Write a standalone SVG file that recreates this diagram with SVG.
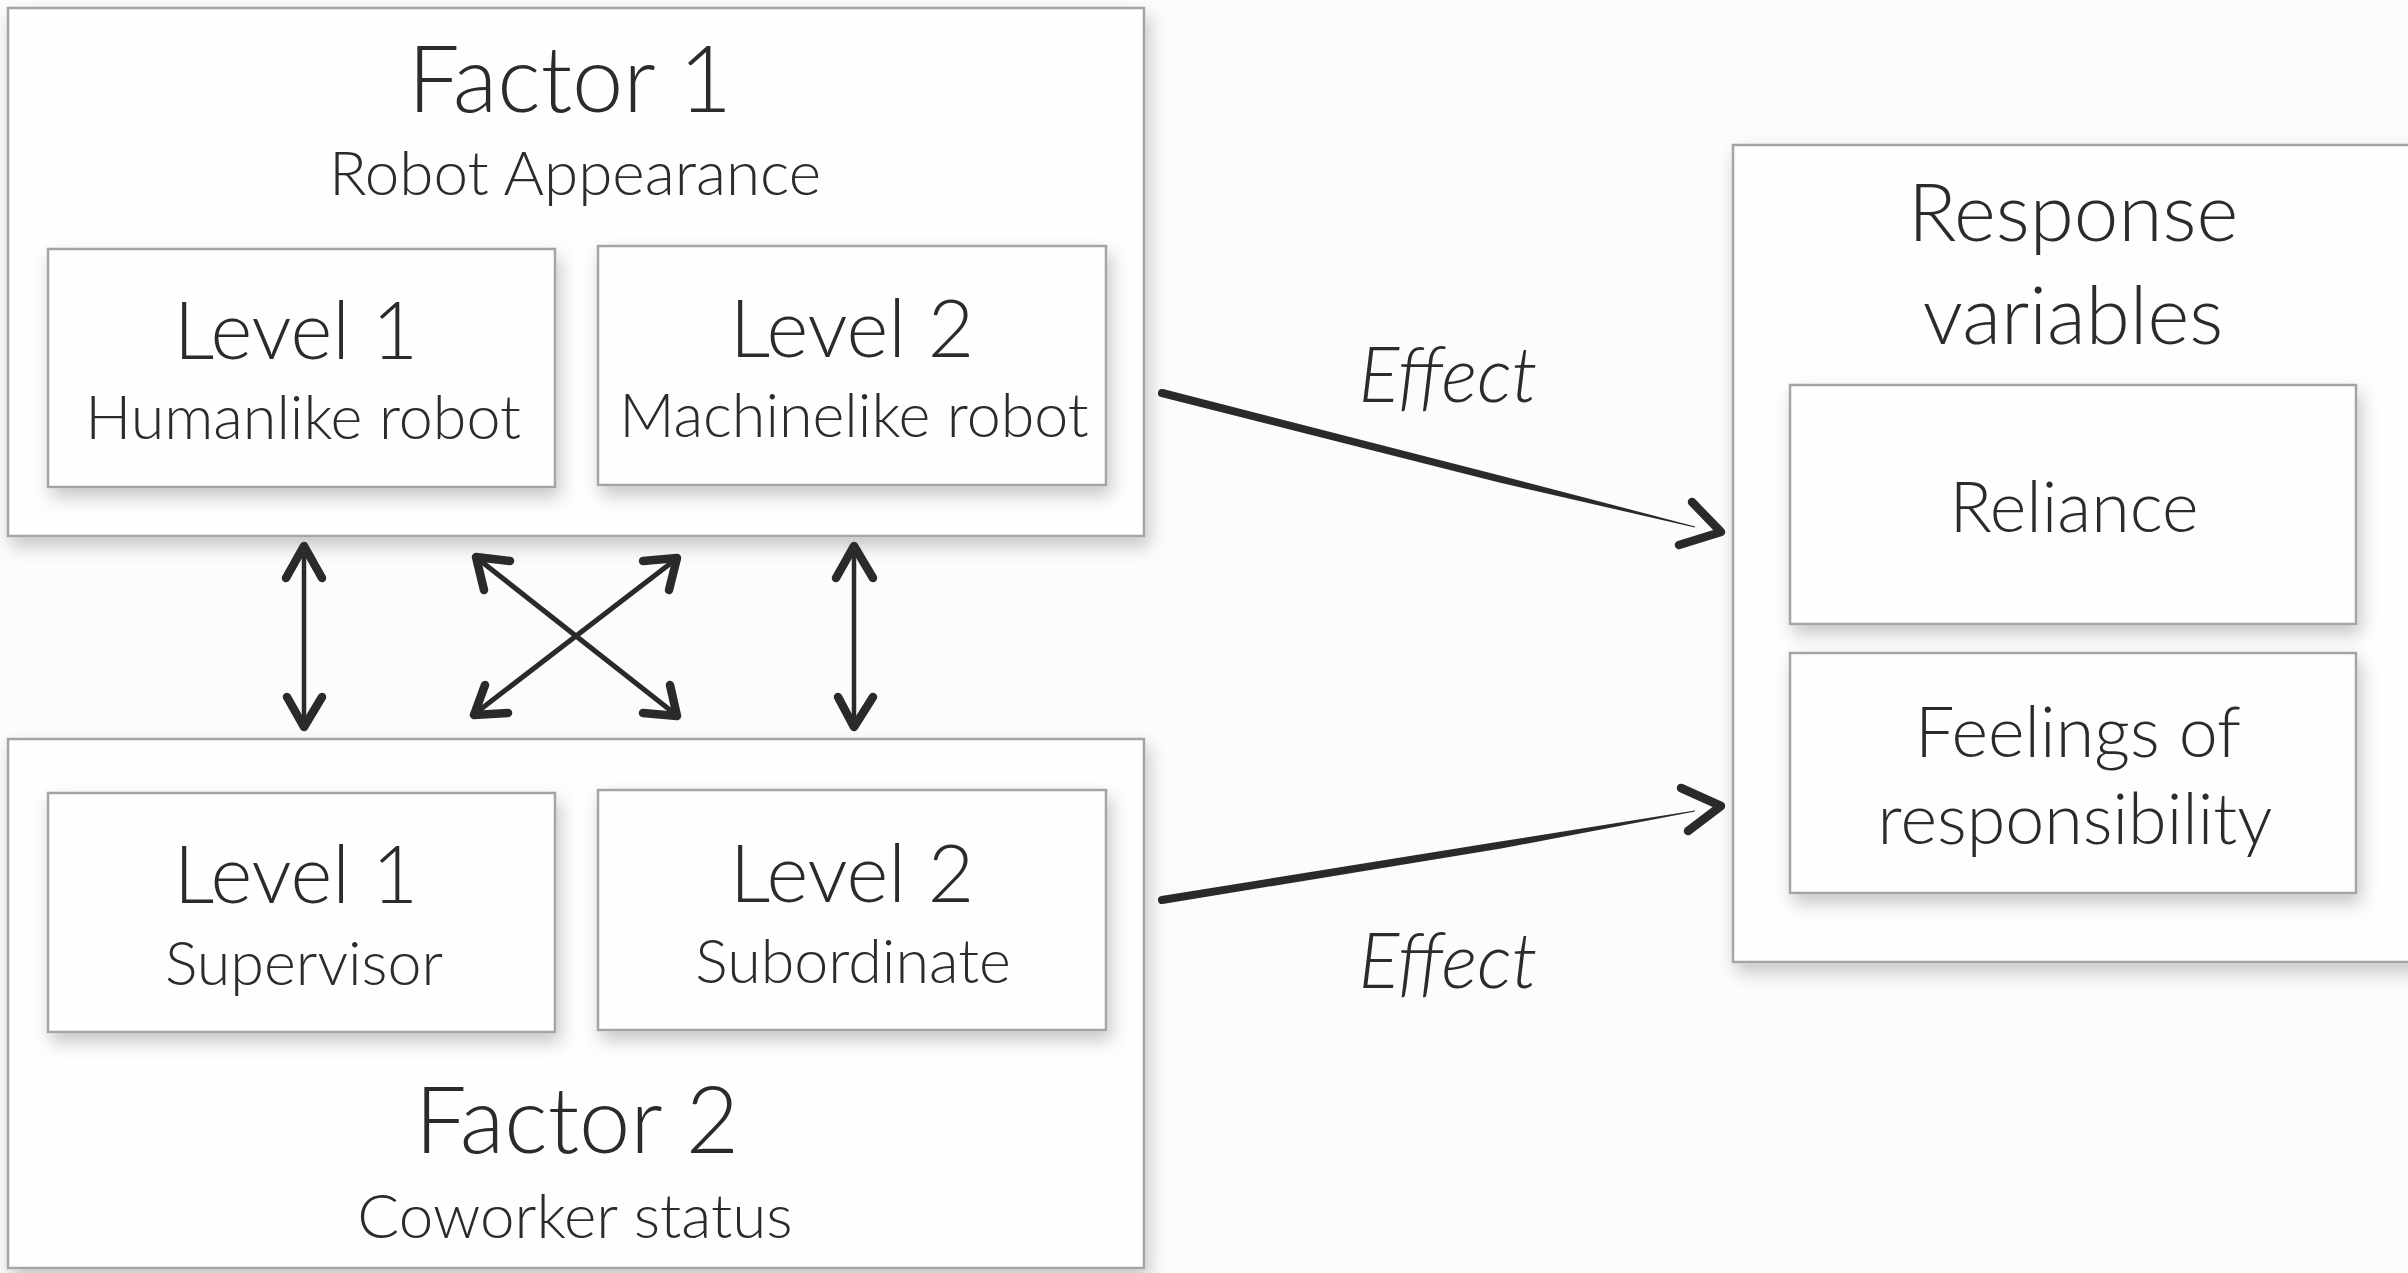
<svg xmlns="http://www.w3.org/2000/svg" width="2408" height="1273" viewBox="0 0 2408 1273">
  <defs>
    <filter id="shadow" x="-10%" y="-10%" width="125%" height="130%">
      <feDropShadow dx="4" dy="9" stdDeviation="9" flood-color="#000" flood-opacity="0.22"/>
    </filter>
    <style>
      .box { fill: #fefefe; stroke: #a2a5a7; stroke-width: 2.5; }
      .t { font-family: "Lato", "Open Sans", "Liberation Sans", sans-serif; font-weight: 300; fill: #2b2b2d; text-anchor: middle; }
      .big { font-size: 92px; }
      .mid { font-size: 80px; }
      .resp { font-size: 70px; }
      .sub { font-size: 62px; }
      .lvl { font-size: 61px; }
      .eff { font-size: 76px; font-style: italic; }
      .ink { fill: none; stroke: #2a2a2d; stroke-linecap: round; stroke-linejoin: round; }
      .head { stroke-width: 8.5; }
      .shaft { stroke-width: 4.5; }
      .xshaft { stroke-width: 5; }
      .brush { fill: #2a2a2d; }
    </style>
  </defs>

  <rect width="2408" height="1273" fill="#fcfcfc"/>

  <!-- Factor 1 -->
  <g id="factor1">
    <rect class="box" x="8" y="8" width="1136" height="528" filter="url(#shadow)"/>
    <text class="t big" x="570" y="112">Factor 1</text>
    <text class="t sub" x="575" y="195">Robot Appearance</text>
  </g>
  <g id="f1-level1">
    <rect class="box" x="48" y="249" width="507" height="238" filter="url(#shadow)"/>
    <text class="t mid" x="296" y="359">Level 1</text>
    <text class="t lvl" x="303" y="439">Humanlike robot</text>
  </g>
  <g id="f1-level2">
    <rect class="box" x="598" y="246" width="508" height="239" filter="url(#shadow)"/>
    <text class="t mid" x="852" y="357">Level 2</text>
    <text class="t lvl" x="854" y="437">Machinelike robot</text>
  </g>

  <!-- Factor 2 -->
  <g id="factor2">
    <rect class="box" x="8" y="739" width="1136" height="529" filter="url(#shadow)"/>
    <text class="t big" x="577" y="1153">Factor 2</text>
    <text class="t sub" x="575" y="1238">Coworker status</text>
  </g>
  <g id="f2-level1">
    <rect class="box" x="48" y="793" width="507" height="239" filter="url(#shadow)"/>
    <text class="t mid" x="296" y="903">Level 1</text>
    <text class="t lvl" x="304" y="985">Supervisor</text>
  </g>
  <g id="f2-level2">
    <rect class="box" x="598" y="790" width="508" height="240" filter="url(#shadow)"/>
    <text class="t mid" x="852" y="902">Level 2</text>
    <text class="t lvl" x="853" y="983">Subordinate</text>
  </g>

  <!-- Response variables -->
  <g id="response">
    <rect class="box" x="1733" y="145" width="700" height="817" filter="url(#shadow)"/>
    <text class="t mid" x="2073" y="241" font-size="83">Response</text>
    <text class="t mid" x="2073" y="344">variables</text>
  </g>
  <g id="reliance">
    <rect class="box" x="1790" y="385" width="566" height="239" filter="url(#shadow)"/>
    <text class="t resp" x="2074" y="532">Reliance</text>
  </g>
  <g id="feelings">
    <rect class="box" x="1790" y="653" width="566" height="240" filter="url(#shadow)"/>
    <text class="t resp" x="2078" y="757">Feelings of</text>
    <text class="t resp" x="2075" y="844">responsibility</text>
  </g>

  <!-- Connectors -->
  <g id="connectors">
    <!-- interaction arrows between the two factors -->
    <line class="ink shaft" x1="304" y1="552" x2="304" y2="722"/>
    <polyline class="ink head" points="286,578 304,546 322,578"/>
    <polyline class="ink head" points="287,697 304,727 322,697"/>

    <line class="ink shaft" x1="854" y1="552" x2="854" y2="722"/>
    <polyline class="ink head" points="836,578 854,546 873,578"/>
    <polyline class="ink head" points="838,697 854,727 873,697"/>

    <line class="ink xshaft" x1="482" y1="562" x2="670" y2="710"/>
    <line class="ink xshaft" x1="671" y1="563" x2="481" y2="709"/>
    <polyline class="ink head" points="510,561 476,557 484,590"/>
    <polyline class="ink head" points="643,561 677,558 669,590"/>
    <polyline class="ink head" points="485,685 474,715 508,713"/>
    <polyline class="ink head" points="670,685 677,716 643,713"/>

    <!-- effect arrows: brush strokes tapering toward the head -->
    <path class="brush" d="M1163,389.1 L1500,475.5 L1695.15,526.42 L1694.85,527.58 L1498.3,482.3 L1161,396.9 A4,4 0 0 1 1163,389.1 Z"/>
    <polyline class="ink head" points="1692,502 1721,532 1679,545"/>
    <path class="brush" d="M1161.34,896.05 L1500,841.6 L1694.9,810.41 L1695.1,811.59 L1501.2,848.6 L1162.66,903.95 A4,4 0 0 1 1161.34,896.05 Z"/>
    <polyline class="ink head" points="1681,788 1721,806 1688,831"/>

    <text class="t eff" x="1448" y="402">Effect</text>
    <text class="t eff" x="1448" y="988">Effect</text>
  </g>
</svg>
